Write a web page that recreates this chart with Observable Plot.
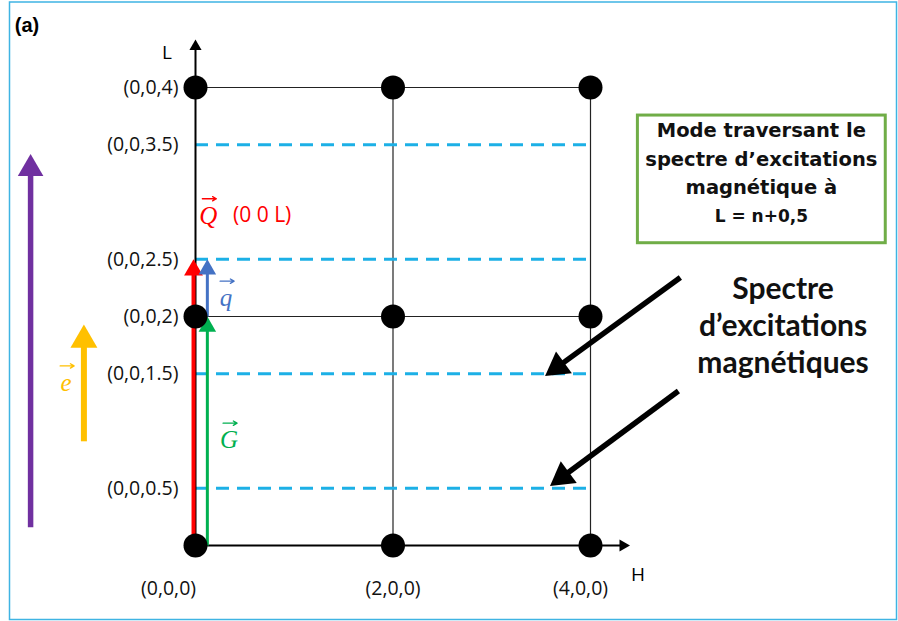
<!DOCTYPE html>
<html><head><meta charset="utf-8">
<script src="https://cdn.jsdelivr.net/npm/d3@7"></script>
<script src="https://cdn.jsdelivr.net/npm/@observablehq/plot@0.6"></script>
<style>body{margin:0;background:#fff;} #chart svg{display:block;}</style>
</head><body><div id="chart"></div>
<script>
// ---- data ----
const latticeH = [0, 2, 4];
const latticeL = [0, 2, 4];
const spectrumL = [0.5, 1.5, 2.5, 3.5];
const yTickL = [4, 3.5, 2.5, 2, 1.5, 0.5];
const yTickLabels = ["(0,0,4)", "(0,0,3.5)", "(0,0,2.5)", "(0,0,2)", "(0,0,1.5)", "(0,0,0.5)"];
const xTickH = [0, 2, 4];
const xTickLabels = ["(0,0,0)", "(2,0,0)", "(4,0,0)"];
const vectorNames = ["Q", "G", "q", "e", "k"];
const vectorH = [-0.02, 0.12, 0.12, -1.13, -1.67];
const vectorL1 = [0, 0, 2, 0.91, 0.16];
const vectorL2 = [2.5, 2, 2.5, 1.93, 3.42];
const vectorColors = ["#ff0000", "#00b050", "#4472c4", "#ffc000", "#7030a0"];
const pointerH1 = [4.91, 4.89];
const pointerL1 = [2.34, 1.35];
const pointerH2 = [3.54, 3.59];
const pointerL2 = [1.48, 0.52];
const boxLines = ["Mode traversant le", "spectre d’excitations", "magnétique à", "L = n+0,5"];
const spectreLines = ["Spectre", "d’excitations", "magnétiques"];
const axisHMax = 4.4, axisLMax = 4.42;

// ---- layout ----
const W = 898, H = 621;
const xs = {domain: [0, 4], range: [195, 590]};
const ys = {domain: [0, 4], range: [545, 87]};
const sx = d3.scaleLinear(xs.domain, xs.range);
const sy = d3.scaleLinear(ys.domain, ys.range);

// arrow helper: line + filled triangle head (d3 triangle symbol, rotated)
function arrow(h1, l1, h2, l2, color, sw, r) {
  const px1 = sx(h1), py1 = sy(l1), px2 = sx(h2), py2 = sy(l2);
  const len = Math.hypot(px2 - px1, py2 - py1);
  const ux = (px2 - px1) / len, uy = (py2 - py1) / len;
  const yy = Math.sqrt(Math.PI * r * r / (3 * Math.sqrt(3)));
  const cx = px2 - ux * 2 * yy, cy = py2 - uy * 2 * yy;
  const rot = Math.atan2(ux, -uy) * 180 / Math.PI;
  const d = [{h1, l1, hc: sx.invert(cx), lc: sy.invert(cy)}];
  return [
    Plot.link(d, {x1: "h1", y1: "l1", x2: "hc", y2: "lc", stroke: color, strokeWidth: sw}),
    Plot.dot(d, {x: "hc", y: "lc", symbol: "triangle", r, fill: color, stroke: "none", rotate: rot})
  ];
}

// vector label: italic letter with a small arrow drawn above it
function vecLabel(letter, h, l, color) {
  const px = sx(h), py = sy(l) - 17;
  const d = [{x1: sx.invert(px - 6), x2: sx.invert(px + 8), y: sy.invert(py)}];
  return [
    Plot.text([letter], {x: h, y: l, text: d => d, fontSize: 25, fontStyle: "italic", fontFamily: "'Liberation Serif', serif", fill: color}),
    Plot.arrow(d, {x1: "x1", x2: "x2", y1: "y", y2: "y", stroke: color, strokeWidth: 1.3, headLength: 5, insetStart: 0, insetEnd: 0})
  ];
}

const vectorWidths = [4, 3, 3, 6, 5.5];
const vectorHeads = [7, 6.5, 6.5, 10, 9.5];

const lattice = latticeH.flatMap(h => latticeL.map(l => ({h, l})));
const yTicks = yTickL.map((l, i) => ({l, label: yTickLabels[i]}));
const xTicks = xTickH.map((h, i) => ({h, label: xTickLabels[i]}));
const xTickDx = [-27, 0, -10];

const tickFont = "'Open Sans', sans-serif";

const marks = [
  Plot.frame({stroke: "#3fb4e3", strokeWidth: 1.5, insetLeft: 9, insetTop: 1.5, insetRight: 2, insetBottom: 2}),
  // grid lines
  Plot.ruleX(latticeH.slice(1), {x: d => d, y1: 0, y2: 4, stroke: "#222", strokeWidth: 1.2}),
  Plot.ruleY(latticeL.slice(1), {y: d => d, x1: 0, x2: 4, stroke: "#222", strokeWidth: 1.2}),
  // spectrum dashed lines
  Plot.ruleY(spectrumL, {y: d => d, x1: 0, x2: 4, stroke: "#1cb0e6", strokeWidth: 3, strokeDasharray: "13,8"}),
  // axes
  ...arrow(0, 0, axisHMax, 0, "#000", 2, 4.5),
  ...arrow(0, 0, 0, axisLMax, "#000", 2, 4.5),
  // vectors
  ...vectorNames.flatMap((n, i) => arrow(vectorH[i], vectorL1[i], vectorH[i], vectorL2[i], vectorColors[i], vectorWidths[i], vectorHeads[i])),
  // lattice points
  Plot.dot(lattice, {x: "h", y: "l", r: 12, fill: "#000", stroke: "none"}),
  // tick labels
  Plot.text(yTicks, {x: 0, y: "l", text: "label", textAnchor: "end", dx: -17, fontSize: 19.5, fontFamily: tickFont, fill: "#111"}),
  ...xTicks.map((t, i) => Plot.text([t], {x: "h", y: 0, text: "label", dx: xTickDx[i], dy: 43, fontSize: 19.5, fontFamily: tickFont, fill: "#111"})),
  Plot.text(["L"], {x: -0.29, y: 4.30, text: d => d, fontSize: 19, fontFamily: tickFont}),
  Plot.text(["H"], {x: 4.48, y: -0.26, text: d => d, fontSize: 19, fontFamily: tickFont}),
  Plot.text(["(a)"], {x: -1.83, y: 4.54, text: d => d, fontSize: 20, fontWeight: "bold", fontFamily: "'Liberation Sans', Arial", textAnchor: "start"}),
  // vector labels
  ...vecLabel("Q", 0.13, 2.88, "#ff0000"),
  Plot.text(["(0 0 L)"], {x: 0.38, y: 2.88, text: d => d, fontSize: 21, fontFamily: tickFont, fill: "#ff0000", textAnchor: "start"}),
  ...vecLabel("q", 0.31, 2.16, "#4472c4"),
  ...vecLabel("G", 0.34, 0.92, "#00b050"),
  ...vecLabel("e", -1.31, 1.42, "#ffc000"),
  // pointer arrows
  ...pointerH1.flatMap((h, i) => arrow(h, pointerL1[i], pointerH2[i], pointerL2[i], "#000", 5.5, 10)),
  // green box
  Plot.rect([0], {x1: 4.48, x2: 6.99, y1: 2.64, y2: 3.755, fill: "#fff", stroke: "#70ad47", strokeWidth: 3}),
  Plot.text(boxLines, {x: 5.73, y: (d, i) => 3.62 - i * 0.249, text: d => d, fontSize: (d, i) => i === 3 ? 17 : 19.5, fontWeight: "bold", fontFamily: "'DejaVu Sans', sans-serif", fill: "#111"}),
  Plot.text(spectreLines, {x: 5.95, y: (d, i) => 2.24 - i * 0.325, text: d => d, fontSize: 30, fontWeight: "bold", fontFamily: "Lato, sans-serif", fill: "#111"})
];

const chart = Plot.plot({
  width: W, height: H,
  marginTop: 0, marginRight: 0, marginBottom: 0, marginLeft: 0,
  x: {...xs, axis: null},
  y: {...ys, axis: null},
  style: {background: "#fff", overflow: "visible"},
  marks
});
document.getElementById("chart").appendChild(chart);
</script>
</body></html>
